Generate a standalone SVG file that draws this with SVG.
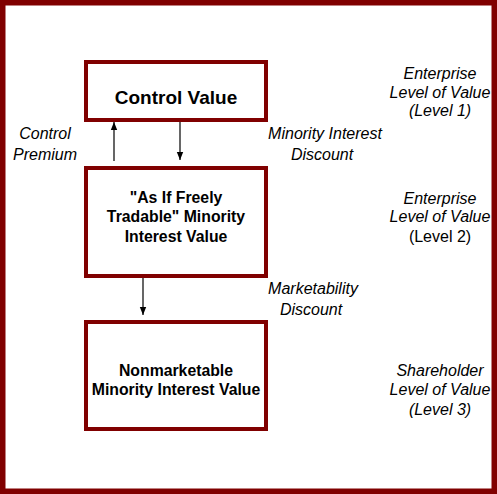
<svg xmlns="http://www.w3.org/2000/svg" width="497" height="494" viewBox="0 0 497 494">
<style>
.frame{fill:#fff;stroke:#800000;stroke-width:5.5}
.box{fill:#fff;stroke:#800000;stroke-width:4}
.bt{font-family:"Liberation Sans",Arial,sans-serif;font-weight:bold;fill:#000;text-anchor:middle}
.it{font-family:"Liberation Sans",Arial,sans-serif;font-style:italic;font-size:16px;fill:#000;text-anchor:middle}
.rg{font-family:"Liberation Sans",Arial,sans-serif;font-size:16px;fill:#000;text-anchor:middle}
.ln{stroke:#000;stroke-width:1.2;fill:none}
</style>
<defs>
<marker id="ah" viewBox="0 0 8 8" refX="8" refY="4" markerWidth="8" markerHeight="8" markerUnits="userSpaceOnUse" orient="auto">
<path d="M0,0.8 L8,4 L0,7.2 Z" fill="#000"/>
</marker>
</defs>
<rect class="frame" x="2.75" y="2.75" width="491.5" height="488.5"/>
<g id="control-value">
<rect class="box" x="86" y="62" width="180" height="58"/>
<text class="bt" x="176" y="104" font-size="19">Control Value</text>
</g>
<g id="freely-tradable">
<rect class="box" x="86" y="168" width="180" height="108"/>
<text class="bt" x="176" y="203" font-size="15.8">"As If Freely</text>
<text class="bt" x="176" y="222" font-size="15.8">Tradable" Minority</text>
<text class="bt" x="176" y="242" font-size="15.8">Interest Value</text>
</g>
<g id="nonmarketable">
<rect class="box" x="86" y="322" width="180" height="107"/>
<text class="bt" x="176" y="376" font-size="15.8">Nonmarketable</text>
<text class="bt" x="176" y="395" font-size="15.8">Minority Interest Value</text>
</g>
<g id="connectors">
<line class="ln" x1="114" y1="161" x2="114" y2="122" marker-end="url(#ah)"/>
<line class="ln" x1="180" y1="122" x2="180" y2="160" marker-end="url(#ah)"/>
<line class="ln" x1="143" y1="278" x2="143" y2="315" marker-end="url(#ah)"/>
</g>
<g id="labels">
<text class="it" x="45" y="139">Control</text>
<text class="it" x="45" y="160">Premium</text>
<text class="it" x="325" y="139">Minority Interest</text>
<text class="it" x="322" y="160">Discount</text>
<text class="it" x="313" y="294">Marketability</text>
<text class="it" x="311" y="315">Discount</text>
<text class="it" x="440" y="79">Enterprise</text>
<text class="it" x="440" y="98">Level of Value</text>
<text class="it" x="440" y="116">(Level 1)</text>
<text class="it" x="440" y="204">Enterprise</text>
<text class="it" x="440" y="222">Level of Value</text>
<text class="rg" x="440" y="242">(Level 2)</text>
<text class="it" x="440" y="376">Shareholder</text>
<text class="it" x="440" y="395">Level of Value</text>
<text class="it" x="440" y="415">(Level 3)</text>
</g>
</svg>
